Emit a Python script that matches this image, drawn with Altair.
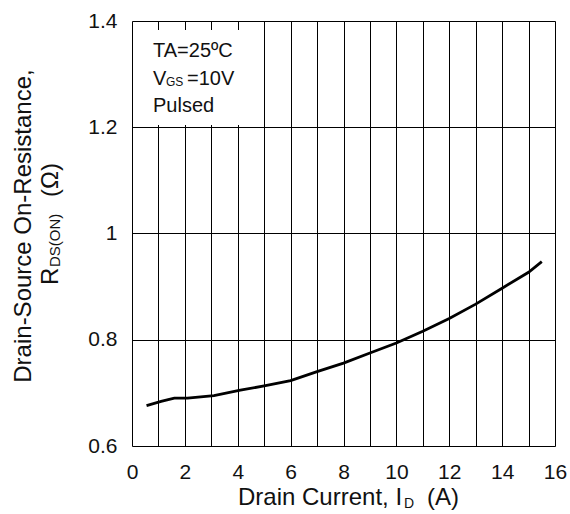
import altair as alt
import pandas as pd

# ---- data ----
drain_current = [0.55, 1.1, 1.6, 2.1, 3.1, 4.1, 5.0, 6.0, 7.0, 8.0, 9.0, 10.0, 11.0, 12.0, 13.0, 14.0, 15.0, 15.5]
rds_on = [0.676, 0.684, 0.690, 0.690, 0.695, 0.705, 0.713, 0.723, 0.740, 0.756, 0.775, 0.794, 0.816, 0.840, 0.867, 0.897, 0.927, 0.947]
x_ticks = list(range(0, 17))
y_ticks = [0.6, 0.8, 1.0, 1.2, 1.4]

FONT = "Liberation Sans"
W, H = 423, 425

df = pd.DataFrame({"I": drain_current, "R": rds_on})
one = pd.DataFrame({"k": [0]})

x_scale = alt.Scale(domain=[0, 16], nice=False, zero=False)
y_scale = alt.Scale(domain=[0.6, 1.4], nice=False, zero=False)

x_axis = alt.Axis(values=x_ticks, labelExpr="datum.value % 2 == 0 ? datum.label : ''",
                  grid=True, gridColor="black", gridOpacity=1, gridWidth=1,
                  ticks=False, domain=False, labelFontSize=21, labelFont=FONT,
                  labelColor="#111111", labelPadding=15, labelFlush=False, title=None)
y_axis = alt.Axis(values=y_ticks, format="~g",
                  grid=True, gridColor="black", gridOpacity=1, gridWidth=1,
                  ticks=False, domain=False, labelFontSize=21, labelFont=FONT,
                  labelColor="#111111", labelPadding=15, labelFlush=False, title=None)

line = alt.Chart(df).mark_line(color="black", strokeWidth=2.8).encode(
    x=alt.X("I:Q", scale=x_scale, axis=x_axis),
    y=alt.Y("R:Q", scale=y_scale, axis=y_axis),
)

box = alt.Chart(one).mark_rect(color="white", opacity=1).encode(
    x=alt.value(2), x2=alt.value(118), y=alt.value(9), y2=alt.value(104)
)


def txt(s, x, y, size, angle=0, align="left"):
    return alt.Chart(one).mark_text(
        text=s, fontSize=size, font=FONT, color="#111111", align=align,
        baseline="alphabetic", angle=angle
    ).encode(x=alt.value(x), y=alt.value(y))


labels = [
    # annotation box
    txt("TA=25ºC", 21, 36, 20),
    txt("V", 21, 64, 20),
    txt("GS", 34, 65, 12),
    txt("=10V", 55, 64, 20),
    txt("Pulsed", 21, 91, 20),
    # x title
    txt("Drain Current, I", 106, 484, 24),
    txt("D", 272, 487, 14),
    txt("(A)", 295, 484, 24),
    # y title
    txt("Drain-Source On-Resistance,", -101, 205, 24, angle=270, align="center"),
    txt("R", -74, 264, 24, angle=270),
    txt("DS(ON)", -72, 246, 15, angle=270),
    txt("(Ω)", -74, 176, 24, angle=270),
]

chart = alt.layer(line, box, *labels).properties(
    width=W, height=H,
    autosize=alt.AutoSizeParams(type="none"),
    padding={"left": 132, "top": 21, "right": 15, "bottom": 68},
).configure_view(stroke="black", strokeWidth=2.5).configure(background="white")

chart.save("out.html", embed_options={"renderer": "svg", "actions": False})
